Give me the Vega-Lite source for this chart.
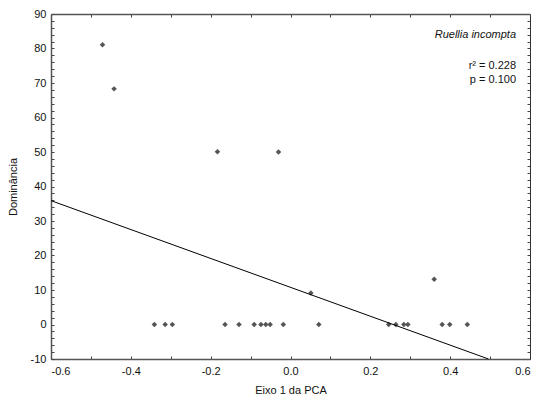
{
  "$schema": "https://vega.github.io/schema/vega-lite/v6.json",
  "width": 479,
  "height": 345,
  "autosize": {"type": "none"},
  "padding": {"left": 51, "top": 14, "right": 10, "bottom": 42},
  "background": "white",
  "config": {
    "view": {"stroke": null},
    "font": "Liberation Sans",
    "axis": {
      "grid": false,
      "domainColor": "#555555",
      "domainWidth": 1.5,
      "tickColor": "#444444",
      "tickWidth": 1,
      "labelFont": "Liberation Sans",
      "labelFontSize": 11,
      "labelColor": "#111111",
      "titleFont": "Liberation Sans",
      "titleFontSize": 11,
      "titleFontWeight": "normal",
      "titleColor": "#111111"
    }
  },
  "datasets": {
    "pts": [
      {"pca": -0.471, "dom": 81.1},
      {"pca": -0.442, "dom": 68.3},
      {"pca": -0.183, "dom": 50.1},
      {"pca": -0.030, "dom": 50.0},
      {"pca": -0.341, "dom": 0},
      {"pca": -0.314, "dom": 0},
      {"pca": -0.296, "dom": 0},
      {"pca": -0.164, "dom": 0},
      {"pca": -0.129, "dom": 0},
      {"pca": -0.091, "dom": 0},
      {"pca": -0.074, "dom": 0},
      {"pca": -0.062, "dom": 0},
      {"pca": -0.051, "dom": 0},
      {"pca": -0.018, "dom": 0},
      {"pca": 0.071, "dom": 0},
      {"pca": 0.051, "dom": 9.1},
      {"pca": 0.246, "dom": 0},
      {"pca": 0.264, "dom": 0},
      {"pca": 0.284, "dom": 0},
      {"pca": 0.294, "dom": 0},
      {"pca": 0.360, "dom": 13.1},
      {"pca": 0.380, "dom": 0},
      {"pca": 0.399, "dom": 0},
      {"pca": 0.443, "dom": 0}
    ],
    "fit": [
      {"pca": -0.6, "dom": 35.9},
      {"pca": 0.496, "dom": -10}
    ],
    "species": [
      {"pca": 0.565, "dom": 83.9, "label": "Ruellia incompta"}
    ],
    "stats": [
      {"pca": 0.565, "dom": 74.9, "label": "r² = 0.228"},
      {"pca": 0.565, "dom": 70.9, "label": "p = 0.100"}
    ]
  },
  "layer": [
    {
      "data": {"name": "pts"},
      "mark": {"type": "point", "shape": "diamond", "filled": true, "size": 30, "color": "#555555", "opacity": 1},
      "encoding": {
        "x": {
          "field": "pca", "type": "quantitative",
          "scale": {"domain": [-0.6, 0.6], "nice": false, "zero": false},
          "axis": {
            "orient": "bottom", "title": "Eixo 1 da PCA",
            "values": [-0.6, -0.5, -0.4, -0.3, -0.2, -0.1, 0, 0.1, 0.2, 0.3, 0.4, 0.5, 0.6],
            "labelExpr": "abs(round(datum.value*10)) % 2 == 0 ? (datum.value < -0.001 ? '-' + format(abs(datum.value), '.1f') : format(abs(datum.value), '.1f')) : ''",
            "tickSize": -3, "labelPadding": 9, "titlePadding": 8
          }
        },
        "y": {
          "field": "dom", "type": "quantitative",
          "scale": {"domain": [-10, 90], "nice": false, "zero": false},
          "axis": {
            "orient": "left", "title": "Dominância",
            "values": [-10,-8,-6,-4,-2,0,2,4,6,8,10,12,14,16,18,20,22,24,26,28,30,32,34,36,38,40,42,44,46,48,50,52,54,56,58,60,62,64,66,68,70,72,74,76,78,80,82,84,86,88,90],
            "labelExpr": "datum.value % 10 == 0 ? (datum.value < 0 ? '-' + abs(datum.value) : '' + datum.value) : ''",
            "tickSize": -3, "labelPadding": 8, "titlePadding": 12
          }
        }
      }
    },
    {
      "data": {"name": "fit"},
      "mark": {"type": "line", "color": "#000000", "strokeWidth": 1},
      "encoding": {
        "x": {
          "field": "pca", "type": "quantitative",
          "axis": {
            "orient": "top", "title": null, "labels": false,
            "values": [-0.5, -0.4, -0.3, -0.2, -0.1, 0, 0.1, 0.2, 0.3, 0.4, 0.5],
            "tickSize": -3
          }
        },
        "y": {
          "field": "dom", "type": "quantitative",
          "axis": {
            "orient": "right", "title": null, "labels": false, "domainWidth": 1, "domainColor": "#333333",
            "values": [-8,-6,-4,-2,0,2,4,6,8,10,12,14,16,18,20,22,24,26,28,30,32,34,36,38,40,42,44,46,48,50,52,54,56,58,60,62,64,66,68,70,72,74,76,78,80,82,84,86,88],
            "tickSize": -3
          }
        }
      }
    },
    {
      "data": {"name": "species"},
      "mark": {"type": "text", "align": "right", "baseline": "middle", "fontSize": 11, "fontStyle": "italic", "font": "Liberation Sans", "color": "#111111"},
      "encoding": {
        "x": {"field": "pca", "type": "quantitative", "axis": null},
        "y": {"field": "dom", "type": "quantitative", "axis": null},
        "text": {"field": "label"}
      }
    },
    {
      "data": {"name": "stats"},
      "mark": {"type": "text", "align": "right", "baseline": "middle", "fontSize": 11, "font": "Liberation Sans", "color": "#111111"},
      "encoding": {
        "x": {"field": "pca", "type": "quantitative", "axis": null},
        "y": {"field": "dom", "type": "quantitative", "axis": null},
        "text": {"field": "label"}
      }
    }
  ],
  "resolve": {"axis": {"x": "independent", "y": "independent"}}
}
